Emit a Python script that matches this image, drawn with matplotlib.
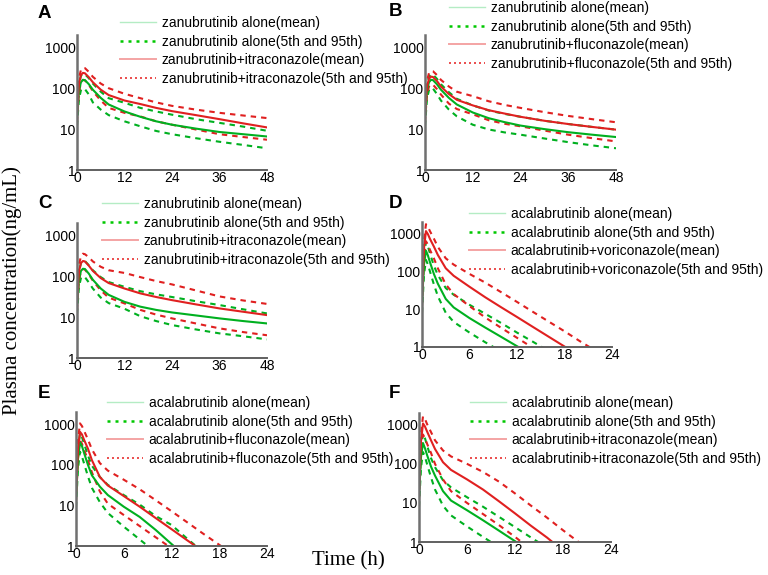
import matplotlib
matplotlib.use('Agg')
import matplotlib.pyplot as plt
from matplotlib.lines import Line2D

plt.rcParams['font.family'] = ['Liberation Sans', 'DejaVu Sans']

# ---------------- data ----------------
t_zanu = [0, 0.5, 1, 1.5, 2, 3, 4, 6, 8, 12, 16, 20, 24, 30, 36, 42, 48]
t_acala = [0, 0.25, 0.5, 0.75, 1, 1.5, 2, 3, 4, 6, 8, 10, 12, 14, 16, 18, 20, 22, 24]

# Panel A: zanubrutinib + itraconazole
A_alone_mean = [20, 90, 140, 160, 158, 125, 92, 58, 40, 27, 20, 15.5, 12.8, 10.3, 8.5, 7.5, 6.6]
A_alone_p95 = [28, 130, 200, 225, 220, 175, 130, 82, 57, 44, 33, 27, 22.5, 17.5, 14.2, 11.5, 9.1]
A_alone_p5 = [12, 55, 90, 100, 95, 70, 45, 30, 22, 15.5, 11.7, 9, 7.5, 6.0, 4.9, 4.1, 3.4]
A_combo_mean = [25, 130, 210, 237, 232, 185, 140, 92, 68, 50, 41, 33, 27.5, 22, 17.5, 13.8, 11]
A_combo_p95 = [35, 180, 280, 316, 310, 250, 190, 130, 100, 73, 57, 45, 37, 30, 25, 21.5, 18.6]
A_combo_p5 = [15, 80, 140, 160, 155, 120, 85, 50, 33, 25, 20.4, 15.5, 12.8, 9.8, 7.5, 6.4, 5.5]

# Panel B: zanubrutinib + fluconazole
B_alone_mean = [20, 90, 140, 160, 158, 125, 92, 58, 40, 25.5, 18.5, 14.8, 12.2, 10, 8.4, 7.3, 6.4]
B_alone_p95 = [28, 125, 195, 220, 215, 170, 125, 80, 55, 38, 28.5, 23.5, 20, 16, 13.3, 11.3, 9.7]
B_alone_p5 = [12, 55, 90, 103, 98, 72, 50, 30, 20.5, 12.8, 9.8, 8.3, 7.3, 5.9, 4.8, 4.0, 3.4]
B_combo_mean = [22, 110, 170, 192, 188, 150, 110, 72, 52, 38, 29, 24, 20, 16, 13.3, 11.3, 9.7]
B_combo_p95 = [30, 150, 235, 265, 260, 210, 160, 110, 82, 64, 48, 39, 33, 26, 21, 17.5, 14.7]
B_combo_p5 = [15, 70, 110, 125, 122, 95, 70, 42, 31, 23, 16.5, 13.5, 11.7, 9.2, 7.3, 6.0, 5.0]

# Panel C: zanubrutinib + itraconazole
C_alone_mean = [20, 85, 135, 152, 150, 115, 82, 50, 35, 23.6, 18, 15, 13, 11, 9.3, 8, 7]
C_alone_p95 = [28, 130, 210, 240, 235, 185, 140, 95, 72, 55, 43, 36, 31, 24.5, 19.7, 15.5, 12.3]
C_alone_p5 = [12, 55, 90, 100, 95, 70, 50, 30, 22, 16, 10.5, 8, 6.4, 5.0, 4.0, 3.4, 2.85]
C_combo_mean = [25, 130, 210, 235, 230, 180, 135, 90, 68, 50, 38, 31, 26, 20.5, 16.3, 13.5, 11.2]
C_combo_p95 = [35, 190, 310, 355, 345, 290, 230, 170, 140, 120, 95, 76, 63, 45, 32, 25.5, 21]
C_combo_p5 = [15, 80, 130, 150, 145, 110, 78, 45, 30, 21.6, 15, 11.5, 9.3, 7.0, 5.3, 4.3, 3.6]

# Panel D: acalabrutinib + voriconazole
D_alone_mean = [14, 150, 350, 260, 175, 85, 47, 18.6, 11.1, 5.8, 3.25, 1.85, 1.05, 0.6, 0.34, 0.19, 0.11, 0.062, 0.035]
D_alone_p95 = [20, 250, 600, 450, 300, 140, 80, 36, 24, 13, 7.5, 4.3, 2.4, 1.38, 0.78, 0.45, 0.25, 0.14, 0.08]
D_alone_p5 = [8, 80, 200, 150, 100, 45, 22, 8, 4.6, 2.4, 1.33, 0.76, 0.43, 0.24, 0.14, 0.08, 0.045, 0.025, 0.014]
D_combo_mean = [20, 400, 1150, 950, 720, 450, 270, 120, 76, 39, 20.5, 11.2, 6.2, 3.4, 1.87, 1.03, 0.56, 0.31, 0.17]
D_combo_p95 = [30, 650, 1750, 1500, 1150, 730, 440, 220, 150, 85, 50, 28, 15.5, 8.5, 4.7, 2.6, 1.4, 0.78, 0.43]
D_combo_p5 = [12, 220, 620, 500, 370, 220, 120, 45, 25, 12, 6, 3.2, 1.75, 0.95, 0.52, 0.29, 0.16, 0.09, 0.05]

# Panel E: acalabrutinib + fluconazole
E_alone_mean = [15, 140, 360, 290, 200, 100, 55, 29, 18, 9.3, 5.2, 2.5, 1.12, 0.52, 0.24, 0.11, 0.05, 0.025, 0.012]
E_alone_p95 = [22, 230, 600, 480, 340, 170, 95, 50, 32, 18, 10.5, 5.5, 3.3, 1.5, 0.7, 0.32, 0.15, 0.07, 0.03]
E_alone_p5 = [9, 80, 210, 160, 110, 52, 27, 12, 6.5, 3.0, 1.45, 0.7, 0.32, 0.15, 0.07, 0.03, 0.015, 0.007, 0.003]
E_combo_mean = [20, 250, 650, 560, 420, 250, 130, 50, 31, 17, 9.3, 4.9, 2.6, 1.37, 0.73, 0.39, 0.21, 0.11, 0.06]
E_combo_p95 = [30, 400, 1050, 900, 700, 420, 240, 110, 72, 43, 25, 13.5, 7.2, 3.8, 2.0, 1.07, 0.57, 0.3, 0.16]
E_combo_p5 = [12, 150, 400, 330, 240, 130, 65, 22, 11, 5.8, 3.1, 1.65, 0.88, 0.47, 0.25, 0.13, 0.07, 0.04, 0.02]

# Panel F: acalabrutinib + itraconazole
F_alone_mean = [14, 150, 340, 250, 170, 85, 50, 20, 11.5, 6.5, 3.6, 1.95, 1.05, 0.57, 0.31, 0.17, 0.09, 0.05, 0.027]
F_alone_p95 = [20, 250, 600, 450, 300, 140, 82, 38, 25, 14, 8, 4.4, 2.4, 1.3, 0.72, 0.4, 0.22, 0.12, 0.065]
F_alone_p5 = [8, 80, 200, 150, 100, 45, 22, 8.5, 4.8, 2.5, 1.35, 0.74, 0.4, 0.22, 0.12, 0.066, 0.036, 0.02, 0.011]
F_combo_mean = [20, 380, 1080, 900, 680, 400, 240, 110, 70, 40, 22, 11, 5.4, 2.6, 1.3, 0.6, 0.3, 0.15, 0.07]
F_combo_p95 = [30, 600, 1650, 1400, 1050, 650, 400, 220, 155, 100, 62, 35, 17.5, 8.5, 4.2, 2.0, 0.98, 0.48, 0.23]
F_combo_p5 = [12, 200, 560, 450, 330, 190, 100, 40, 20, 10, 5.2, 2.7, 1.35, 0.65, 0.31, 0.15, 0.07, 0.035, 0.017]

A_labels = ["zanubrutinib alone(mean)", "zanubrutinib alone(5th and 95th)",
            "zanubrutinib+itraconazole(mean)", "zanubrutinib+itraconazole(5th and 95th)"]
B_labels = ["zanubrutinib alone(mean)", "zanubrutinib alone(5th and 95th)",
            "zanubrutinib+fluconazole(mean)", "zanubrutinib+fluconazole(5th and 95th)"]
C_labels = ["zanubrutinib alone(mean)", "zanubrutinib alone(5th and 95th)",
            "zanubrutinib+itraconazole(mean)", "zanubrutinib+itraconazole(5th and 95th)"]
D_labels = ["acalabrutinib alone(mean)", "acalabrutinib alone(5th and 95th)",
            "acalabrutinib+voriconazole(mean)", "acalabrutinib+voriconazole(5th and 95th)"]
E_labels = ["acalabrutinib alone(mean)", "acalabrutinib alone(5th and 95th)",
            "acalabrutinib+fluconazole(mean)", "acalabrutinib+fluconazole(5th and 95th)"]
F_labels = ["acalabrutinib alone(mean)", "acalabrutinib alone(5th and 95th)",
            "acalabrutinib+itraconazole(mean)", "acalabrutinib+itraconazole(5th and 95th)"]

zanu_xticks = [0, 12, 24, 36, 48]
acala_xticks = [0, 6, 12, 18, 24]
yticks = [1, 10, 100, 1000]
ytick_labels = ["1", "10", "100", "1000"]

# ---------------- layout ----------------
W, H = 768, 575
def rect(l, r, top, bot):
    return [l / W, 1 - bot / H, (r - l) / W, (bot - top) / H]

panels = [
    dict(letter="A", pos=rect(77, 267, 35, 170), lx=38, ly=5, t=t_zanu, xt=zanu_xticks,
         data=(A_alone_mean, A_alone_p95, A_alone_p5, A_combo_mean, A_combo_p95, A_combo_p5),
         labels=A_labels, leg=(120, 16)),
    dict(letter="B", pos=rect(425, 616, 35, 170), lx=389, ly=3, t=t_zanu, xt=zanu_xticks,
         data=(B_alone_mean, B_alone_p95, B_alone_p5, B_combo_mean, B_combo_p95, B_combo_p5),
         labels=B_labels, leg=(449, 1)),
    dict(letter="C", pos=rect(77, 267, 223, 358), lx=38, ly=195, t=t_zanu, xt=zanu_xticks,
         data=(C_alone_mean, C_alone_p95, C_alone_p5, C_combo_mean, C_combo_p95, C_combo_p5),
         labels=C_labels, leg=(102, 197)),
    dict(letter="D", pos=rect(422, 612, 222, 347), lx=389, ly=195, t=t_acala, xt=acala_xticks,
         data=(D_alone_mean, D_alone_p95, D_alone_p5, D_combo_mean, D_combo_p95, D_combo_p5),
         labels=D_labels, leg=(469, 207)),
    dict(letter="E", pos=rect(76, 267, 412, 546), lx=38, ly=385, t=t_acala, xt=acala_xticks,
         data=(E_alone_mean, E_alone_p95, E_alone_p5, E_combo_mean, E_combo_p95, E_combo_p5),
         labels=E_labels, leg=(107, 396)),
    dict(letter="F", pos=rect(419, 611, 413, 542), lx=389, ly=385, t=t_acala, xt=acala_xticks,
         data=(F_alone_mean, F_alone_p95, F_alone_p5, F_combo_mean, F_combo_p95, F_combo_p5),
         labels=F_labels, leg=(470, 396)),
]

GREEN = '#00b020'
RED = '#e02020'
DASH = (0, (2.6, 2.4))

fig = plt.figure(figsize=(7.68, 5.75), dpi=100)

for p in panels:
    ax = fig.add_axes(p['pos'])
    t = p['t']
    am, a95, a5, cm, c95, c5 = p['data']
    ax.plot(t, a95, color=GREEN, lw=1.5, linestyle=DASH)
    ax.plot(t, a5, color=GREEN, lw=1.5, linestyle=DASH)
    ax.plot(t, c95, color=RED, lw=1.5, linestyle=DASH)
    ax.plot(t, c5, color=RED, lw=1.5, linestyle=DASH)
    ax.plot(t, am, color=GREEN, lw=1.5)
    ax.plot(t, cm, color=RED, lw=1.5)
    ax.set_yscale('log')
    ax.set_ylim(1, 2000)
    ax.set_xlim(0, p['xt'][-1])
    ax.set_yticks(yticks)
    ax.set_yticklabels(ytick_labels)
    ax.minorticks_off()
    ax.set_xticks(p['xt'])
    ax.set_xticklabels([str(v) for v in p['xt']])
    ax.tick_params(length=0, pad=1, labelsize=10, colors='black')
    for s in ('top', 'right'):
        ax.spines[s].set_visible(False)
    ax.spines['left'].set_color('#707070')
    ax.spines['left'].set_linewidth(1.8)
    ax.spines['bottom'].set_color('#606060')
    ax.spines['bottom'].set_linewidth(1.4)
    ax.set_facecolor('none')

    handles = [
        Line2D([], [], color='#b4ecc4', lw=1.0),
        Line2D([], [], color='#00c800', lw=1.8, linestyle=(0, (1.2, 2.0))),
        Line2D([], [], color='#f4a4a4', lw=1.4),
        Line2D([], [], color='#e83030', lw=1.2, linestyle=(0, (1.2, 1.8))),
    ]
    lx, ly = p['leg']
    fig.legend(handles, p['labels'], loc='upper left',
               bbox_to_anchor=(lx / W, 1 - ly / H), bbox_transform=fig.transFigure,
               frameon=False, fontsize=10, handlelength=2.6, handletextpad=0.4,
               labelspacing=0.33, borderpad=0, borderaxespad=0)

    fig.text(p['lx'] / W, 1 - p['ly'] / H, p['letter'], fontsize=13.5, fontweight='bold',
             ha='left', va='top')

fig.text(12 / W, 1 - 291 / H, "Plasma concentration(ng/mL)", rotation=90,
         ha='center', va='center', fontsize=15, family=['Liberation Serif', 'DejaVu Serif'])
fig.text(348 / W, 1 - 561 / H, "Time (h)", ha='center', va='center', fontsize=15,
         family=['Liberation Serif', 'DejaVu Serif'])

fig.savefig('out.png', dpi=100)
